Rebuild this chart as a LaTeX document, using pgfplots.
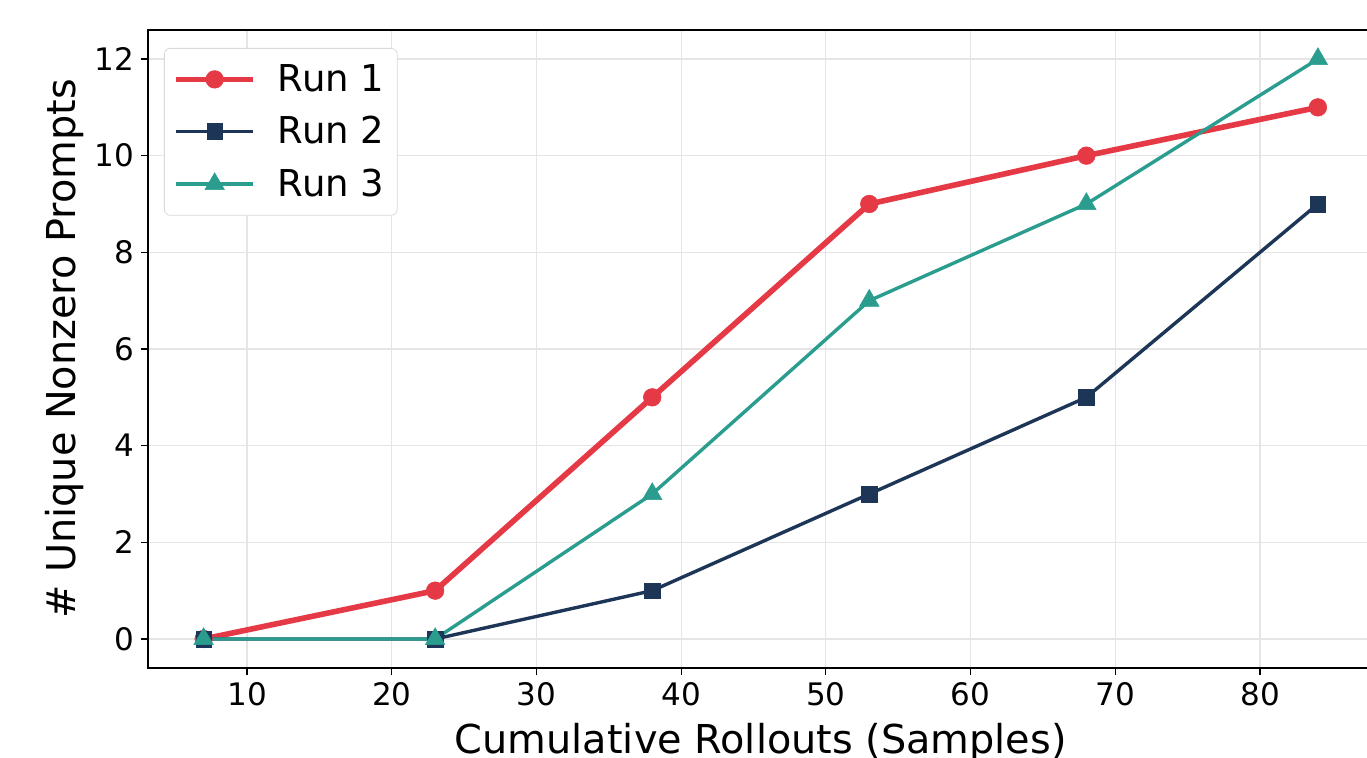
\documentclass[border=0pt]{standalone}
\usepackage{fontspec}
\setmainfont{DejaVu Sans}
\usepackage{pgfplots}
\pgfplotsset{compat=1.18}
\definecolor{cRed}{RGB}{230,57,70}
\definecolor{cNavy}{RGB}{29,53,87}
\definecolor{cTeal}{RGB}{42,157,143}
\begin{document}
\begin{tikzpicture}
\useasboundingbox (0,0) rectangle (683.5pt,378.5pt);
\clip (0,0) rectangle (683.5pt,378.5pt);
\begin{axis}[
  at={(73.95pt,44.5pt)}, anchor=south west,
  scale only axis, width=612.85pt, height=319pt,
  xmin=3.15, xmax=87.85, ymin=-0.6, ymax=12.6,
  xtick={10,20,...,80}, ytick={0,2,...,12},
  /pgf/number format/assume math mode=true,
  tick label style={font=\fontsize{15.5}{18}\selectfont},
  tick align=outside, tick pos=left,
  major tick length=3.5pt,
  every tick/.style={black, line width=0.6pt},
  axis line style={line width=0.9pt},
  grid=major, grid style={gray!20, line width=0.6pt},
  xlabel={Cumulative Rollouts (Samples)},
  ylabel={\# Unique Nonzero Prompts},
  label style={font=\fontsize{19.9}{23}\selectfont},
  xlabel style={at={(rel axis cs:0.5,0)}, anchor=base, yshift=-42.5pt},
  ylabel style={at={(axis description cs:-0.0587,0.5)}, anchor=base, rotate=0},
  legend style={at={(axis description cs:0.0131,0.9718)}, anchor=north west,
    draw=gray!30, rounded corners=3pt, fill=white,
    font=\fontsize{18.5}{22}\selectfont, inner xsep=4.5pt, inner ysep=6pt,
    row sep=7pt, cells={anchor=west},
    /tikz/every odd column/.append style={column sep=9pt}},
  legend image code/.code={\draw[mark repeat=2,mark phase=2] plot coordinates {(0pt,0pt) (19.25pt,0pt) (38.5pt,0pt)};},
]
\addplot[cRed, line width=2.8pt, mark=*, mark size=4.4pt, mark options={solid, line width=0.3pt}]
  coordinates {(7,0) (23,1) (38,5) (53,9) (68,10) (84,11)};
\addlegendentry{Run 1}
\addplot[cNavy, line width=1.7pt, mark=square*, mark size=3.9pt, mark options={solid, line width=0.3pt}]
  coordinates {(7,0) (23,0) (38,1) (53,3) (68,5) (84,9)};
\addlegendentry{Run 2}
\addplot[cTeal, line width=1.7pt, mark=triangle*, mark size=5.6pt, mark options={solid, line width=0.3pt}]
  coordinates {(7,0) (23,0) (38,3) (53,7) (68,9) (84,12)};
\addlegendentry{Run 3}
\end{axis}
\end{tikzpicture}
\end{document}
